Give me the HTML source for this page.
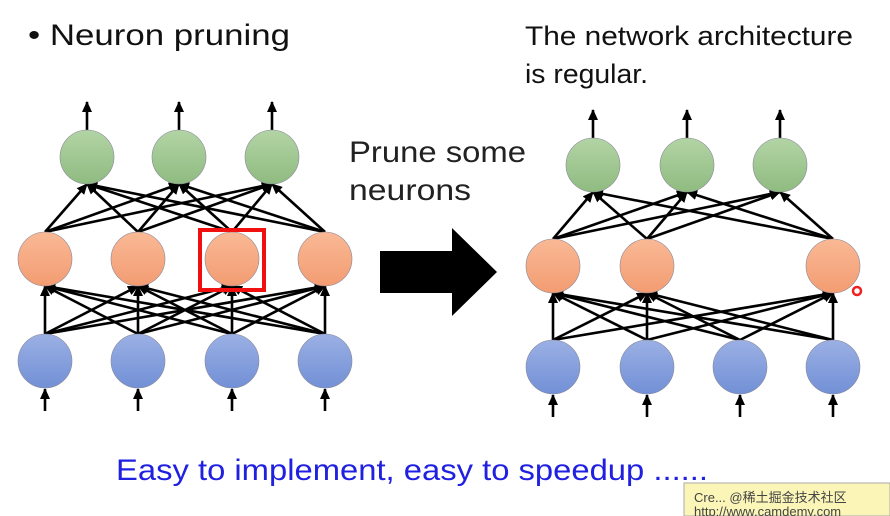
<!DOCTYPE html>
<html><head><meta charset="utf-8"><style>
body{margin:0;width:890px;height:516px;background:#fff;overflow:hidden;font-family:"Liberation Sans",sans-serif}
svg{position:absolute;left:0;top:0}
</style></head><body>
<svg id="s" width="890" height="516" xmlns="http://www.w3.org/2000/svg">
<defs>
<marker id="a" markerWidth="11" markerHeight="10" refX="10" refY="5" orient="auto" markerUnits="userSpaceOnUse"><path d="M0,0 L11,5 L0,10 z" fill="#000"/></marker>
<linearGradient id="g" x1="0" y1="0" x2="0" y2="1"><stop offset="0" stop-color="#b3d4a5"/><stop offset="1" stop-color="#8fbb80"/></linearGradient>
<linearGradient id="o" x1="0" y1="0" x2="0" y2="1"><stop offset="0" stop-color="#f9b995"/><stop offset="1" stop-color="#f39c72"/></linearGradient>
<linearGradient id="b" x1="0" y1="0" x2="0" y2="1"><stop offset="0" stop-color="#9bb0e4"/><stop offset="1" stop-color="#7290d6"/></linearGradient>
</defs>
<g id="lines" stroke="#000" stroke-width="2.6" fill="none"></g>
<g id="nodes"></g>
<rect x="200" y="230" width="64" height="60" fill="none" stroke="#f01010" stroke-width="4"/>
<path d="M380,251 H452 V228 L497,272 L452,316 V293 H380 Z" fill="#000"/>
<circle cx="857" cy="291" r="4" fill="none" stroke="#f02020" stroke-width="2.5"/>
<text x="28" y="45" font-size="30" fill="#111" textLength="262" lengthAdjust="spacingAndGlyphs">• Neuron pruning</text>
<text x="349" y="162" font-size="30" fill="#222" textLength="177" lengthAdjust="spacingAndGlyphs">Prune some</text>
<text x="349" y="200" font-size="30" fill="#222" textLength="122" lengthAdjust="spacingAndGlyphs">neurons</text>
<text x="525" y="45" font-size="27" fill="#111" textLength="328" lengthAdjust="spacingAndGlyphs">The network architecture</text>
<text x="525" y="83" font-size="27" fill="#111" textLength="123" lengthAdjust="spacingAndGlyphs">is regular.</text>
<text x="116" y="480" font-size="30" fill="#2020e0" textLength="592" lengthAdjust="spacingAndGlyphs">Easy to implement, easy to speedup ......</text>
<rect x="684" y="483" width="206" height="33" fill="#fbf6b8" stroke="#aaa"/>
<text x="694" y="502" font-size="13" fill="#444">Cre...    @稀土掘金技术社区</text>
<text x="694" y="516" font-size="13" fill="#444">http://www.camdemy.com</text>
</svg>
<script>
var L=document.getElementById('lines'),N=document.getElementById('nodes'),ns="http://www.w3.org/2000/svg";
function ln(x1,y1,x2,y2){var e=document.createElementNS(ns,'line');e.setAttribute('x1',x1);e.setAttribute('y1',y1);e.setAttribute('x2',x2);e.setAttribute('y2',y2);e.setAttribute('marker-end','url(#a)');L.appendChild(e);}
function c(x,y,f){var e=document.createElementNS(ns,'circle');e.setAttribute('cx',x);e.setAttribute('cy',y);e.setAttribute('r',27);e.setAttribute('fill','url(#'+f+')');e.setAttribute('stroke','#889');e.setAttribute('stroke-width','0.6');N.appendChild(e);}
function net(O,oy,H,hy,I,iy){
 I.forEach(function(x){H.forEach(function(h){ln(x,iy-27,h,hy+27);}); ln(x,iy+50,x,iy+28);c(x,iy,'b');});
 H.forEach(function(h){O.forEach(function(o){ln(h,hy-27,o,oy+27);});c(h,hy,'o');});
 O.forEach(function(o){ln(o,oy-27,o,oy-55);c(o,oy,'g');});
}
net([87,179,272],157,[45,138,232,325],259,[45,138,232,325],361);
net([593,687,780],165,[553,647,833],266,[553,647,740,833],367);
</script>
</body></html>
